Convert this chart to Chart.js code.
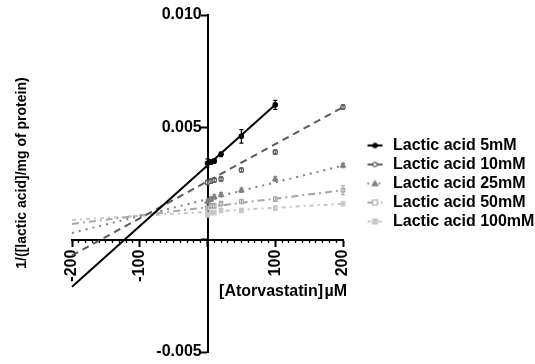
<!DOCTYPE html>
<html>
<head>
<meta charset="utf-8">
<script src="https://cdn.jsdelivr.net/npm/chart.js@4/dist/chart.umd.min.js"></script>
<style>
html,body{margin:0;padding:0;background:#fff;}
#wrap{width:535px;height:364px;position:relative;}
</style>
</head>
<body>
<div id="wrap"><canvas id="c" width="535" height="364"></canvas></div>
<script>
// ---------- data ----------
const seriesNames = ['Lactic acid 5mM','Lactic acid 10mM','Lactic acid 25mM','Lactic acid 50mM','Lactic acid 100mM'];

const conc5 = [0, 5, 10, 20, 50, 100];
const concAll = [0, 5, 10, 20, 50, 100, 200];

const y5mM   = [0.0034, 0.00345, 0.0035, 0.0038, 0.0046, 0.0060];
const e5mM   = [0.0002, 0.0001, 0.0001, 0.0001, 0.0003, 0.0002];
const y10mM  = [0.00255, 0.0026, 0.00265, 0.0027, 0.0031, 0.0039, 0.0059];
const e10mM  = [0.0001, 0.0001, 0.0001, 0.0001, 0.0001, 0.0001, 0.0001];
const y25mM  = [0.0017, 0.0018, 0.0019, 0.0020, 0.0022, 0.0027, 0.0033];
const e25mM  = [0.0001, 0.0001, 0.0001, 0.0001, 0.0001, 0.0001, 0.0001];
const y50mM  = [0.0014, 0.0015, 0.0015, 0.0016, 0.0017, 0.0018, 0.0022];
const e50mM  = [0.0001, 0.0001, 0.0001, 0.0001, 0.0001, 0.0001, 0.0002];
const y100mM = [0.0011, 0.0012, 0.0012, 0.0013, 0.0013, 0.0014, 0.0016];
const e100mM = [0.0001, 0.0001, 0.0001, 0.0001, 0.0001, 0.0001, 0.0001];

// regression lines (end points)
const fitX5   = [-200, 100];
const fitY5   = [-0.0021, 0.0060];
const fitXAll = [-200, 200];
const fitY10  = [-0.0007, 0.0059];
const fitY25  = [0.0003, 0.0033];
const fitY50  = [0.0007, 0.0022];
const fitY100 = [0.00088, 0.0016];

const xTickValues = [-200, -100, 0, 100, 200];
const xTickLabels = ['-200', '-100', '', '100', '200'];
const yTickValues = [-0.005, 0, 0.005, 0.010];
const yTickLabels = ['-0.005', '', '0.005', '0.010'];

const xTitle = '[Atorvastatin]\u200AµM';
const yTitle = '1/([lactic acid]/mg of protein)';

// ---------- styling ----------
const FONT = "'Liberation Sans', Arial, Helvetica, sans-serif";
const styles = [
  {color:'#000000', dash:[],          marker:'circle',   fill:true,  r:2.2},
  {color:'#5a5a5a', dash:[7,5],       marker:'circle',   fill:false, r:2.2},
  {color:'#808080', dash:[2,5],       marker:'triangle', fill:true,  r:2.8},
  {color:'#a6a6a6', dash:[7,4,2,4],   marker:'rect',     fill:false, r:2.5},
  {color:'#c8c8c8', dash:[4,4,2,4],   marker:'rect',     fill:true,  r:2.5}
];

const pointsX = [conc5, concAll, concAll, concAll, concAll];
const pointsY = [y5mM, y10mM, y25mM, y50mM, y100mM];
const pointsE = [e5mM, e10mM, e25mM, e50mM, e100mM];
const linesX  = [fitX5, fitXAll, fitXAll, fitXAll, fitXAll];
const linesY  = [fitY5, fitY10, fitY25, fitY50, fitY100];

function zip(xs, ys){ return xs.map((x,i)=>({x:x, y:ys[i]})); }

const datasets = [];
styles.forEach((s,i)=>{
  datasets.push({
    type:'line', label:seriesNames[i], data:zip(linesX[i], linesY[i]),
    borderColor:s.color, borderWidth:2, borderDash:s.dash, pointRadius:0,
    fill:false, tension:0, order:10+i, clip:false
  });
});
styles.forEach((s,i)=>{
  datasets.push({
    type:'scatter', label:seriesNames[i]+' pts', data:zip(pointsX[i], pointsY[i]),
    errors: pointsE[i],
    showLine:false, pointStyle:s.marker, pointRadius:s.r,
    pointBackgroundColor: s.fill ? s.color : '#ffffff',
    pointBorderColor:s.color, pointBorderWidth:1.2, order:i, clip:false
  });
});

// legend icons: line sample with marker in its middle
function makeIcon(s){
  const c = document.createElement('canvas');
  c.width = 36; c.height = 16;
  const g = c.getContext('2d');
  g.strokeStyle = s.color; g.lineWidth = 2;
  g.setLineDash(s.dash.length ? s.dash.map(v=>v*0.8) : []);
  g.beginPath(); g.moveTo(20, 8); g.lineTo(35, 8); g.stroke();
  g.setLineDash([]);
  g.fillStyle = s.fill ? s.color : '#fff';
  g.lineWidth = 1.2;
  const cx = 27.5, cy = 8, r = s.r;
  g.beginPath();
  if (s.marker === 'circle') g.arc(cx, cy, r, 0, Math.PI*2);
  else if (s.marker === 'triangle') { g.moveTo(cx, cy-r); g.lineTo(cx+r, cy+r*0.8); g.lineTo(cx-r, cy+r*0.8); g.closePath(); }
  else g.rect(cx-r, cy-r, 2*r, 2*r);
  g.fill(); g.stroke();
  return c;
}
const icons = styles.map(makeIcon);

const errorBars = {
  id:'errorBars',
  afterDatasetsDraw(chart){
    const ctx = chart.ctx, xs = chart.scales.x, ys = chart.scales.y;
    chart.data.datasets.forEach((ds)=>{
      if (!ds.errors) return;
      ctx.save();
      ctx.strokeStyle = ds.pointBorderColor; ctx.lineWidth = 1.2;
      ds.data.forEach((p,k)=>{
        const e = ds.errors[k];
        const px = xs.getPixelForValue(p.x);
        const t = ys.getPixelForValue(p.y + e), b = ys.getPixelForValue(p.y - e);
        ctx.beginPath();
        ctx.moveTo(px, t); ctx.lineTo(px, b);
        ctx.moveTo(px-2, t); ctx.lineTo(px+2, t);
        ctx.moveTo(px-2, b); ctx.lineTo(px+2, b);
        ctx.stroke();
      });
      ctx.restore();
    });
  }
};

const axisTitles = {
  id:'axisTitles',
  afterDraw(chart){
    const ctx = chart.ctx;
    ctx.save();
    ctx.fillStyle = '#000';
    ctx.font = 'bold 16px ' + FONT;
    ctx.textAlign = 'right'; ctx.textBaseline = 'middle';
    ctx.fillText(xTitle, 347, 292);
    ctx.translate(22, 173);
    ctx.rotate(-Math.PI/2);
    ctx.font = 'bold 14px ' + FONT;
    ctx.textAlign = 'center';
    ctx.fillText(yTitle, 0, 0);
    ctx.restore();
  }
};

function labelFor(values, labels, v){
  for (let i=0;i<values.length;i++){ if (Math.abs(values[i]-v) < 1e-9) return labels[i]; }
  return '';
}
// y labels sit to the left of the tick marks (axis is drawn at x = 0)
const Y_LABEL_GAP = ' \u200A';

const tickFont = {family:FONT, size:16, weight:'bold'};

new Chart(document.getElementById('c'), {
  data:{ datasets },
  options:{
    responsive:false, animation:false, devicePixelRatio:1,
    layout:{ padding:{left:72, right:0, top:15, bottom:12} },
    plugins:{
      tooltip:{enabled:false},
      legend:{
        display:true, position:'right', align:'center', maxWidth:192,
        labels:{
          usePointStyle:true, pointStyleWidth:39, padding:3,
          font:{family:FONT, size:16, weight:'bold'}, color:'#000',
          generateLabels(){
            return seriesNames.map((n,i)=>({
              text:n, pointStyle:icons[i], fillStyle:'#fff', strokeStyle:'#fff',
              lineWidth:0, hidden:false, datasetIndex:i, fontColor:'#000'
            }));
          }
        }
      }
    },
    scales:{
      x:{
        type:'linear', min:-200, max:200, position:{y:0},
        afterFit(s){ s.height = 0; },
        border:{display:true, color:'#000', width:2},
        grid:{drawOnChartArea:false, drawTicks:true, tickLength:6, tickWidth:2, tickColor:'#000'},
        ticks:{stepSize:100, autoSkip:false, minRotation:90, maxRotation:90, padding:4,
               font:tickFont, color:'#000',
               callback:(v)=>labelFor(xTickValues, xTickLabels, v)}
      },
      x2:{
        type:'linear', min:-200, max:200, position:{y:0}, axis:'x',
        afterFit(s){ s.height = 0; },
        border:{display:false},
        grid:{drawOnChartArea:false, drawTicks:true, tickLength:3, tickWidth:1.3, tickColor:'#000'},
        ticks:{stepSize:10, autoSkip:false, padding:0, callback:()=>''}
      },
      y:{
        type:'linear', min:-0.005, max:0.010, position:{x:0},
        afterFit(s){ s.width = 0; },
        border:{display:true, color:'#000', width:2},
        grid:{drawOnChartArea:false, drawTicks:true, tickLength:6, tickWidth:2, tickColor:'#000'},
        ticks:{stepSize:0.005, autoSkip:false, padding:2, font:tickFont, color:'#000',
               callback:(v)=>{ const l = labelFor(yTickValues, yTickLabels, v); return l ? l + Y_LABEL_GAP : ''; }}
      }
    }
  },
  plugins:[errorBars, axisTitles]
});
</script>
</body>
</html>
